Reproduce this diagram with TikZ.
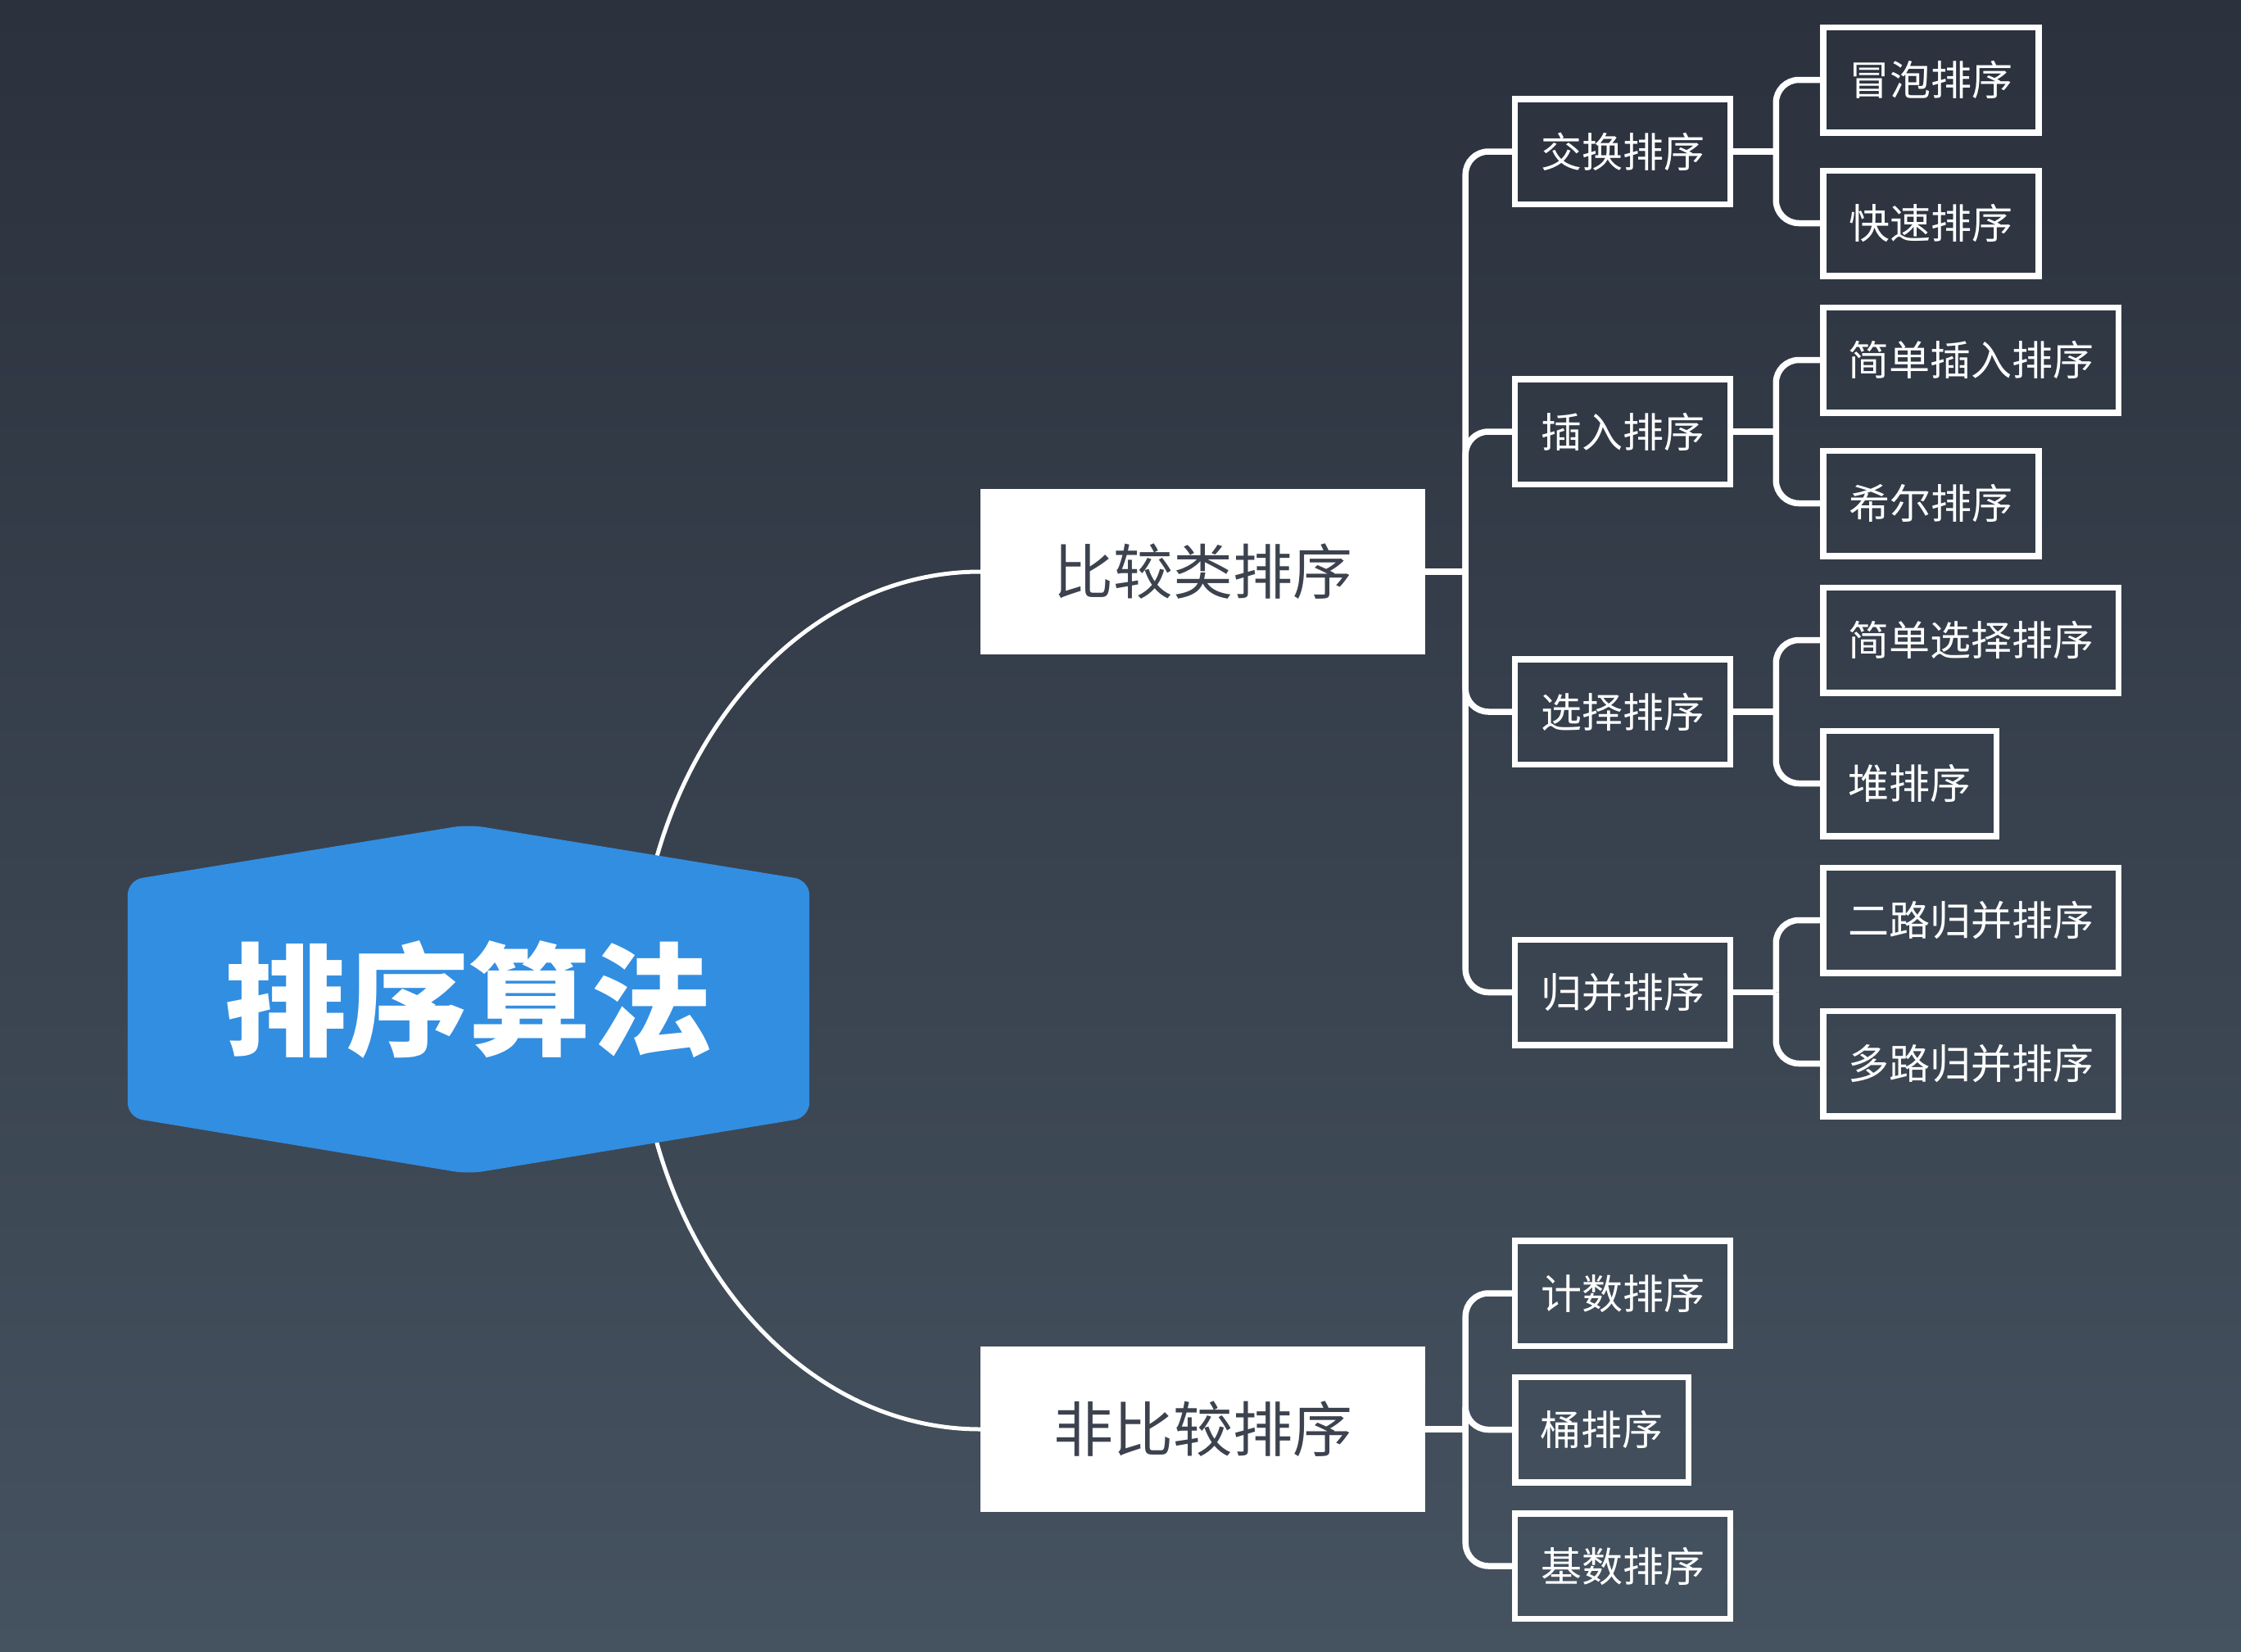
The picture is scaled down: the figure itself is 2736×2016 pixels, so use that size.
\documentclass[tikz,border=0pt]{standalone}
\usepackage{fontspec}
\newfontfamily\cjk{Noto Sans CJK SC}
\usetikzlibrary{calc}
\definecolor{bgtop}{RGB}{43,49,61}
\definecolor{bgbot}{RGB}{69,82,95}
\definecolor{rootblue}{RGB}{50,142,225}
\definecolor{darktext}{RGB}{60,66,78}
\pgfdeclarelayer{bg}\pgfdeclarelayer{links}\pgfdeclarelayer{hex}
\pgfsetlayers{bg,links,hex,main}
\begin{document}
\begin{tikzpicture}[x=1pt,y=-1pt,
  rootnode/.style={inner sep=0, minimum width=832pt, minimum height=426pt, text=white, font=\cjk\bfseries\fontsize{149}{160}\selectfont},
  lone/.style={fill=white, inner sep=0, minimum width=543pt, minimum height=202pt, text=darktext, font=\cjk\fontsize{73}{80}\selectfont},
  box/.style={draw=white, line width=7.5pt, inner sep=0, minimum height=128.5pt, text=white, font=\cjk\fontsize{50}{56}\selectfont},
  wfour/.style={minimum width=263pt},
  wthree/.style={minimum width=211.5pt},
  wsix/.style={minimum width=360.5pt},
  conn/.style={draw=white, line width=7.5pt, rounded corners=28pt},
  curveline/.style={draw=white, line width=5pt}]
\begin{pgfonlayer}{bg}
  \shade[top color=bgtop, bottom color=bgbot] (0,0) rectangle (2736,2016);
\end{pgfonlayer}
\useasboundingbox (0,0) rectangle (2736,2016);

% root
\node[rootnode] (root) at (572,1220) {排序算法};
\begin{pgfonlayer}{hex}
  \fill[rootblue, rounded corners=18pt] (root.north) -- ($(root.north east)+(0,68)$) -- ($(root.south east)+(0,-69)$) -- (root.south) -- ($(root.south west)+(0,-69)$) -- ($(root.north west)+(0,68)$) -- cycle;
\end{pgfonlayer}

% level 1
\node[lone] (cmp) at (1468.5,698) {比较类排序};
\node[lone] (ncmp) at (1468.5,1745) {非比较排序};

% level 2
\node[box,wfour] (swap) at (1981,185) {交换排序};
\node[box,wfour] (ins) at (1981,527) {插入排序};
\node[box,wfour] (sel) at (1981,869) {选择排序};
\node[box,wfour] (mrg) at (1981,1211.5) {归并排序};
\node[box,wfour] (cnt) at (1981,1579) {计数排序};
\node[box,wthree] (bkt) at (1955.5,1745.5) {桶排序};
\node[box,wfour] (rdx) at (1981,1912) {基数排序};

% level 3
\node[box,wfour] (bub) at (2357.5,97.5) {冒泡排序};
\node[box,wfour] (qck) at (2357.5,272.5) {快速排序};
\node[box,wsix] (sins) at (2406,439.5) {简单插入排序};
\node[box,wfour] (shl) at (2357.5,614.5) {希尔排序};
\node[box,wsix] (ssel) at (2406,781.5) {简单选择排序};
\node[box,wthree] (hp) at (2331.5,956.5) {堆排序};
\node[box,wsix] (mtwo) at (2406,1123.5) {二路归并排序};
\node[box,wsix] (mmul) at (2406,1298.5) {多路归并排序};

\begin{pgfonlayer}{links}
  \draw[curveline] ($(root.center)+(206,0)$) .. controls ($(root.center)+(206,-288)$) and ($(cmp.west)+(-231,0)$) .. (cmp.west);
  \draw[curveline] ($(root.center)+(206,0)$) .. controls ($(root.center)+(206,290)$) and ($(ncmp.west)+(-231,0)$) .. (ncmp.west);
\end{pgfonlayer}

% level1 -> level2
\coordinate (ja) at ($(cmp.east)+(49,0)$);
\coordinate (jb) at ($(ncmp.east)+(49,0)$);
\draw[conn] (cmp.east) -- (ja);
\draw[conn] (ncmp.east) -- (jb);
\foreach \c in {swap,ins,sel,mrg} \draw[conn] (ja) |- (\c.west);
\foreach \c in {cnt,bkt,rdx} \draw[conn] (jb) |- (\c.west);

% level2 -> level3
\coordinate (js) at ($(swap.east)+(52,0)$);
\coordinate (ji) at ($(ins.east)+(52,0)$);
\coordinate (jl) at ($(sel.east)+(52,0)$);
\coordinate (jm) at ($(mrg.east)+(52,0)$);
\draw[conn] (swap.east) -- (js);
\draw[conn] (ins.east) -- (ji);
\draw[conn] (sel.east) -- (jl);
\draw[conn] (mrg.east) -- (jm);
\draw[conn] (js) |- (bub.west);
\draw[conn] (js) |- (qck.west);
\draw[conn] (ji) |- (sins.west);
\draw[conn] (ji) |- (shl.west);
\draw[conn] (jl) |- (ssel.west);
\draw[conn] (jl) |- (hp.west);
\draw[conn] (jm) |- (mtwo.west);
\draw[conn] (jm) |- (mmul.west);
\end{tikzpicture}
\end{document}
